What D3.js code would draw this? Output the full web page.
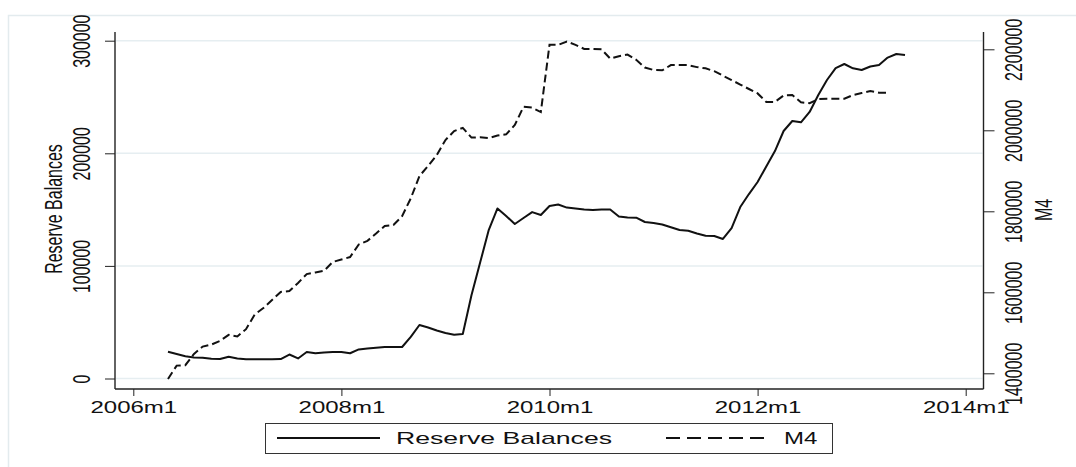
<!DOCTYPE html>
<html>
<head>
<meta charset="utf-8">
<script src="https://cdn.jsdelivr.net/npm/d3@7/dist/d3.min.js"></script>
<style>
  body { margin: 0; background: #fff; }
  svg { display: block; }
  text { font-family: "Liberation Sans", Arial, sans-serif; fill: #111; }
</style>
</head>
<body>
<svg width="1076" height="467"></svg>
<script>
// monthly data, first observation is 2006m5 (month index 4 from 2006m1)
var reserveStart = 4;
var reserveBalances = [
  23800, 21800, 19700, 18600, 18400, 17500, 17300, 19300, 17800, 17000,
  17000, 17000, 17000, 17300, 21300, 17800, 23500, 22400, 23100, 23500,
  23500, 22400, 25800, 26600, 27300, 28000, 28000, 28000, 36900, 47500,
  45300, 42600, 40400, 38900, 39500, 74000, 103000, 132000, 151000, 144300,
  137200, 142500, 147800, 145200, 153200, 154500, 151800, 151000, 150100, 149600,
  150100, 150100, 143900, 143000, 142800, 139000, 138100, 136800, 134300, 131900,
  131200, 128800, 126800, 126500, 123900, 133600, 152300, 163800, 174500, 188300,
  202000, 219800, 228700, 227500, 236700, 251800, 265100, 275700, 279300, 275500,
  274000, 277100, 278400, 285000, 288200, 287300
];

var m4Start = 4;
var m4 = [
  1386000, 1419000, 1420000, 1448000, 1466000, 1471000, 1480000, 1495000, 1491000, 1509000,
  1545000, 1561000, 1581000, 1601000, 1603000, 1623000, 1645000, 1649000, 1653000, 1675000,
  1681000, 1687000, 1718000, 1727000, 1745000, 1764000, 1766000, 1788000, 1832000, 1887000,
  1912000, 1939000, 1976000, 1998000, 2006000, 1982000, 1983000, 1981000, 1987000, 1990000,
  2013000, 2058000, 2056000, 2045000, 2211000, 2211000, 2219000, 2211000, 2201000, 2201000,
  2200000, 2177000, 2183000, 2187000, 2174000, 2155000, 2149000, 2148000, 2161000, 2161000,
  2161000, 2156000, 2153000, 2146000, 2135000, 2124000, 2113000, 2102000, 2091000, 2070000,
  2070000, 2086000, 2087000, 2069000, 2067000, 2077000, 2078000, 2078000, 2078000, 2087000,
  2092000, 2097000, 2093000, 2093000
];

var xTickMonths = [0, 24, 48, 72, 96];
var xTickLabels = ['2006m1', '2008m1', '2010m1', '2012m1', '2014m1'];
var leftTicks = [0, 100000, 200000, 300000];
var rightTicks = [1400000, 1600000, 1800000, 2000000, 2200000];

var svg = d3.select('svg');

// light outer frame
svg.append('rect')
  .attr('x', 8.5).attr('y', 15.5)
  .attr('width', 1100).attr('height', 480)
  .attr('fill', 'none')
  .attr('stroke', '#e3ebee')
  .attr('stroke-width', 1.5);

var x = d3.scaleLinear().domain([0, 96]).range([133.3, 965.7]);
var yLeft = d3.scaleLinear().domain([0, 300000]).range([378.5, 40.7]);
var yRight = d3.scaleLinear().domain([1400000, 2200000]).range([373.3, 49.3]);

var plotLeft = 115, plotRight = 983.5, plotTop = 32, plotBottom = 389;

// gridlines
svg.append('g').selectAll('line')
  .data(leftTicks)
  .enter()
  .append('line')
  .attr('x1', plotLeft + 1).attr('x2', plotRight - 1)
  .attr('y1', d => yLeft(d)).attr('y2', d => yLeft(d))
  .attr('stroke', '#e6eef1')
  .attr('stroke-width', 1.5);

// left axis
var gLeft = svg.append('g')
  .attr('transform', `translate(${plotLeft},0)`)
  .call(d3.axisLeft(yLeft).tickValues(leftTicks).tickSize(10).tickFormat(d3.format('d')));
gLeft.select('.domain').remove();
gLeft.attr('font-size', 16).attr('font-family', null).style('color', '#222');
gLeft.selectAll('text')
  .attr('x', null).attr('dy', null)
  .attr('text-anchor', 'middle')
  .attr('transform', 'translate(-25,0) scale(1.5,1) rotate(-90)');

// right axis
var gRight = svg.append('g')
  .attr('transform', `translate(${plotRight},0)`)
  .call(d3.axisRight(yRight).tickValues(rightTicks).tickSize(11).tickFormat(d3.format('d')));
gRight.select('.domain').remove();
gRight.attr('font-size', 16).attr('font-family', null).style('color', '#222');
gRight.selectAll('text')
  .attr('x', null).attr('dy', null)
  .attr('text-anchor', 'middle')
  .attr('transform', 'translate(38.5,0) scale(1.5,1) rotate(-90)');

// bottom axis
var gBottom = svg.append('g')
  .attr('transform', `translate(0,${plotBottom})`)
  .call(d3.axisBottom(x).tickValues(xTickMonths).tickSize(7)
    .tickFormat((d, i) => xTickLabels[i]));
gBottom.select('.domain').remove();
gBottom.attr('font-size', 16).attr('font-family', null).style('color', '#222');
gBottom.selectAll('text')
  .attr('y', null).attr('dy', null)
  .attr('text-anchor', 'middle')
  .attr('transform', 'translate(0,24) scale(1.5,1)');

// axis lines
svg.append('line')
  .attr('x1', plotLeft).attr('x2', plotLeft)
  .attr('y1', plotTop).attr('y2', plotBottom)
  .attr('stroke', '#222').attr('stroke-width', 1.4);
svg.append('line')
  .attr('x1', plotRight).attr('x2', plotRight)
  .attr('y1', plotTop).attr('y2', plotBottom)
  .attr('stroke', '#222').attr('stroke-width', 1.4);
svg.append('line')
  .attr('x1', plotLeft).attr('x2', plotRight)
  .attr('y1', plotBottom).attr('y2', plotBottom)
  .attr('stroke', '#222').attr('stroke-width', 1.4);

// axis titles
svg.append('text')
  .attr('text-anchor', 'middle')
  .attr('font-size', 16)
  .attr('transform', 'translate(62,209) scale(1.5,1) rotate(-90)')
  .text('Reserve Balances');
svg.append('text')
  .attr('text-anchor', 'middle')
  .attr('font-size', 16)
  .attr('transform', 'translate(1052,210) scale(1.5,1) rotate(-90)')
  .text('M4');

// series
var reserveLine = d3.line()
  .x((d, i) => x(reserveStart + i))
  .y(d => yLeft(d));
var m4Line = d3.line()
  .x((d, i) => x(m4Start + i))
  .y(d => yRight(d));

svg.append('path')
  .datum(m4)
  .attr('d', m4Line)
  .attr('fill', 'none')
  .attr('stroke', '#111')
  .attr('stroke-width', 2)
  .attr('stroke-dasharray', '8,4');

svg.append('path')
  .datum(reserveBalances)
  .attr('d', reserveLine)
  .attr('fill', 'none')
  .attr('stroke', '#111')
  .attr('stroke-width', 2)
  .attr('stroke-linejoin', 'round');

// legend
var legend = svg.append('g');
legend.append('rect')
  .attr('x', 265.5).attr('y', 423.5)
  .attr('width', 567).attr('height', 30)
  .attr('fill', '#fff')
  .attr('stroke', '#333')
  .attr('stroke-width', 1);
legend.append('line')
  .attr('x1', 277).attr('x2', 380)
  .attr('y1', 438).attr('y2', 438)
  .attr('stroke', '#111').attr('stroke-width', 2);
legend.append('text')
  .attr('font-size', 16)
  .attr('transform', 'translate(396,444) scale(1.5,1)')
  .attr('textLength', 144)
  .attr('lengthAdjust', 'spacingAndGlyphs')
  .text('Reserve Balances');
legend.append('line')
  .attr('x1', 666).attr('x2', 766)
  .attr('y1', 438).attr('y2', 438)
  .attr('stroke', '#111').attr('stroke-width', 2)
  .attr('stroke-dasharray', '14,7');
legend.append('text')
  .attr('font-size', 16)
  .attr('transform', 'translate(784,444) scale(1.5,1)')
  .text('M4');
</script>
</body>
</html>
